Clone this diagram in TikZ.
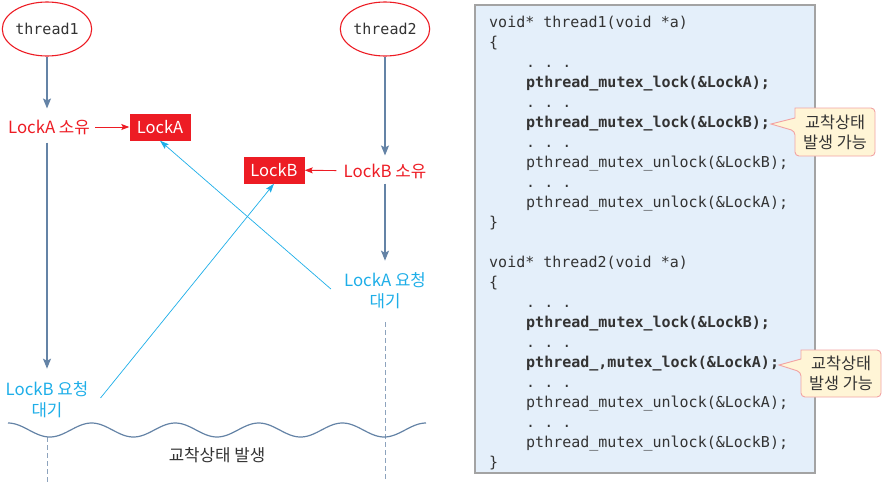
\documentclass[tikz,border=0pt]{standalone}
\usepackage{fontspec}
\setmonofont{DejaVu Sans Mono}
\newfontfamily\kr{Noto Sans CJK KR}
\usetikzlibrary{arrows.meta,shapes.geometric}
\definecolor{tred}{HTML}{ED1C24}
\definecolor{tcyan}{HTML}{1EAEE8}
\definecolor{steel}{HTML}{6483A6}
\definecolor{dashc}{HTML}{8DA3BD}
\definecolor{codebg}{HTML}{E4EFFA}
\definecolor{codeframe}{HTML}{A3A3A3}
\definecolor{ink}{HTML}{333333}
\definecolor{calloutbg}{HTML}{FFF5D6}
\definecolor{calloutframe}{HTML}{F2A3A3}
\begin{document}
\begin{tikzpicture}[x=1pt,y=-1pt,
  thr/.style={ellipse,draw=tred,line width=1.1pt,fill=white,minimum width=81pt,minimum height=54pt,inner sep=0pt,font=\ttfamily\fontsize{15}{18}\selectfont,text=ink},
  lbl/.style={inner sep=0pt,font=\kr\fontsize{16.8}{21}\selectfont,align=center},
  lockbox/.style={fill=tred,text=white,minimum width=61pt,minimum height=27pt,inner sep=0pt,font=\kr\fontsize{16.5}{18}\selectfont},
  flow/.style={draw=steel,line width=1.1pt,-{Stealth[length=10pt,width=8pt,inset=2pt]}},
  own/.style={draw=tred,line width=0.9pt,-{Stealth[length=8pt,width=6pt,inset=1.5pt]}},
  req/.style={draw=tcyan,line width=0.7pt,-{Stealth[length=9pt,width=6pt,inset=1.5pt]}},
  dashline/.style={draw=dashc,line width=0.9pt,dash pattern=on 5pt off 3pt},
  code/.style={anchor=base west,inner sep=0pt,text=ink,font=\ttfamily\fontsize{15}{18}\selectfont},
  codeb/.style={code,font=\ttfamily\bfseries\fontsize{15}{18}\selectfont},
  callout/.style={draw=calloutframe,fill=calloutbg,line width=0.9pt,rounded corners=4pt},
  calltext/.style={inner sep=0pt,align=center,text=ink,font=\kr\fontsize{16.3}{20}\selectfont}
]
\useasboundingbox (0,0) rectangle (883,488);

% ---------- left: timeline ----------
\node[thr] (t1) at (47,29) {thread1};
\node[thr] (t2) at (385,29) {thread2};

\node[lbl,text=tred] (ownA) at (49,127) {LockA 소유};
\node[lockbox] (lockA) at (160,127) {LockA};
\node[lockbox] (lockB) at (274,170) {LockB};
\node[lbl,text=tred] (ownB) at (385,171) {LockB 소유};

\node[lbl,text=tcyan] (waitB) at (47,400) {LockB 요청\\대기};
\node[lbl,text=tcyan] (waitA) at (385,291) {LockA 요청\\대기};

\coordinate (endA) at (385,482);
\coordinate (waveL) at (47,437);
\coordinate (endL) at (47,482);

\draw[flow,shorten >=11pt] (t1.south) -- (t1.south |- ownA.north);
\draw[flow,shorten <=8pt,shorten >=13pt] (t1.south |- ownA.south) -- (waitB.north);
\draw[flow,shorten >=8pt] (t2) -- (ownB);
\draw[flow,shorten <=5pt,shorten >=12pt] (ownB) -- (waitA);

\draw[own,shorten <=5pt] (ownA) -- (lockA);
\draw[own,shorten <=7pt] (ownB) -- (lockB);

\draw[req] ([xshift=12pt,yshift=2pt]waitB.east) -- (lockB.south);
\draw[req] ([xshift=-13pt,yshift=2pt]waitA.west) -- (lockA.south);

\draw[dashline,shorten <=13pt] (waitA) -- (endA);
\draw[dashline] (waveL) -- (endL);

\draw[steel,line width=1.2pt] plot[domain=8:426,samples=200,smooth] (\x,{430-7*cos(4.3062*(\x-8))});

\node[lbl,text=ink] (dead) at (217,455) {교착상태 발생};

% ---------- right: code ----------
\node[draw=codeframe,fill=codebg,line width=1.3pt,minimum width=340pt,minimum height=468pt,inner sep=0pt] (codebox) at (645,239) {};

\node[code]  (a1)  at (489,27)  {void* thread1(void *a)};
\node[code]  (a2)  at (489,47)  {\{};
\node[code]  (a3)  at (526,67)  {. . .};
\node[codeb] (a4)  at (526,87)  {pthread\_mutex\_lock(\&LockA);};
\node[code]  (a5)  at (526,107) {. . .};
\node[codeb] (a6)  at (526,127) {pthread\_mutex\_lock(\&LockB);};
\node[code]  (a7)  at (526,147) {. . .};
\node[code]  (a8)  at (526,167) {pthread\_mutex\_unlock(\&LockB);};
\node[code]  (a9)  at (526,187) {. . .};
\node[code]  (a10) at (526,207) {pthread\_mutex\_unlock(\&LockA);};
\node[code]  (a11) at (489,227) {\}};

\node[code]  (b1)  at (489,267) {void* thread2(void *a)};
\node[code]  (b2)  at (489,287) {\{};
\node[code]  (b3)  at (526,307) {. . .};
\node[codeb] (b4)  at (526,327) {pthread\_mutex\_lock(\&LockB);};
\node[code]  (b5)  at (526,347) {. . .};
\node[codeb] (b6)  at (526,367) {pthread\_,mutex\_lock(\&LockA);};
\node[code]  (b7)  at (526,387) {. . .};
\node[code]  (b8)  at (526,407) {pthread\_mutex\_unlock(\&LockA);};
\node[code]  (b9)  at (526,427) {. . .};
\node[code]  (b10) at (526,447) {pthread\_mutex\_unlock(\&LockB);};
\node[code]  (b11) at (489,467) {\}};

% ---------- callouts ----------
\draw[callout] (795,108) -- (875,108) -- (875,156) -- (795,156) -- (795,131) [sharp corners] -- (771,124) -- (795,118) -- cycle;
\node[calltext] (co1) at (835,132) {교착상태\\발생 가능};

\draw[callout] (801,350) -- (881,350) -- (881,397) -- (801,397) -- (801,372) [sharp corners] -- (779,365) -- (801,359) -- cycle;
\node[calltext] (co2) at (841,373.5) {교착상태\\발생 가능};
\end{tikzpicture}
\end{document}
